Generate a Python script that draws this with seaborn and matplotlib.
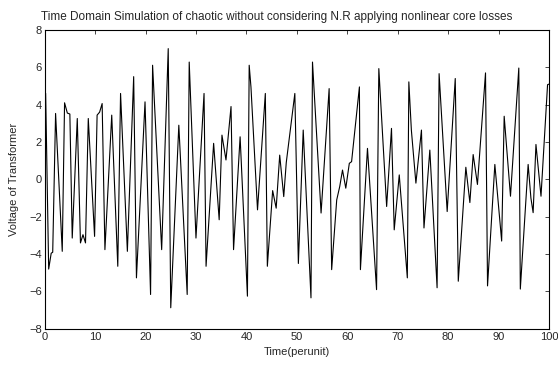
import numpy as np
import pandas as pd
import matplotlib
matplotlib.use("Agg")
import matplotlib.pyplot as plt
import seaborn as sns

# values (turning points of the waveform)
time = [0.0, 0.2, 0.8, 1.3, 1.6, 2.17, 3.49, 3.95, 4.5, 5.0, 5.47, 6.47, 7.1, 7.6, 8.1,
        8.65, 9.9, 10.4, 10.9, 11.4, 11.95, 13.3, 14.5, 15.05, 16.4, 17.65, 18.2,
        19.9, 21.0, 21.4, 23.2, 24.5, 25.0, 26.6, 28.26, 28.66, 30.0, 31.6, 32.0,
        33.5, 34.6, 35.15, 35.95, 36.95, 37.45, 38.75, 40.2, 40.55, 40.9, 42.2,
        43.75, 44.15, 45.2, 45.9, 46.6, 47.4, 47.9, 49.6, 50.3, 51.26, 52.8, 53.1,
        54.8, 56.4, 56.9, 57.9, 58.5, 59.05, 59.7, 60.4, 60.85, 62.4, 62.6, 64.0,
        65.8, 66.25, 67.8, 68.76, 69.3, 70.3, 71.9, 72.2, 72.7, 73.6, 74.7, 75.2,
        76.36, 77.8, 78.2, 79.8, 81.4, 82.0, 83.5, 84.3, 84.95, 85.8, 87.4, 87.8,
        89.25, 90.6, 91.1, 92.35, 94.0, 94.3, 95.85, 96.4, 96.84, 97.4, 98.4,
        99.7, 100.0]
voltage = [4.7, 4.6, -4.8, -3.95, -3.9, 3.53, -3.85, 4.1, 3.55, 3.5, -3.14, 3.26, -3.4, -2.96, -3.4,
           3.26, -3.05, 3.44, 3.6, 4.06, -3.76, 3.44, -4.65, 4.6, -3.85, 5.5, -5.27,
           4.15, -6.16, 6.11, -3.76, 7.0, -6.87, 2.9, -6.16, 6.28, -3.14, 4.6, -4.65,
           1.93, -2.16, 2.37, 1.04, 3.9, -3.76, 2.28, -6.25, 6.11, 4.95, -1.63,
           4.6, -4.65, -0.6, -1.54, 1.3, -0.92, 0.9, 4.6, -4.5, 2.64, -6.34, 6.28,
           -1.8, 4.86, -4.83, -1.1, -0.38, 0.5, -0.47, 0.86, 0.95, 4.95, -4.83, 1.66,
           -5.9, 5.93, -1.45, 2.73, -2.7, 0.24, -5.27, 5.22, 2.64, -0.2, 2.64, -2.6,
           1.57, -5.8, 5.66, -1.72, 5.4, -5.45, 0.65, -1.24, 1.33, -0.27, 5.7, -5.7,
           0.8, -3.3, 3.38, -0.9, 5.96, -5.87, 0.8, -1.0, -1.78, 1.87, -0.9,
           5.07, 5.1]
xticks = list(range(0, 101, 10))
yticks = list(range(-8, 9, 2))

df = pd.DataFrame({"t": time, "v": voltage})

sns.set_style("white")
plt.rcParams["font.family"] = ["Liberation Sans", "DejaVu Sans"]
plt.rcParams["xtick.direction"] = "in"
plt.rcParams["ytick.direction"] = "in"

fig = plt.figure(figsize=(5.58, 3.65), dpi=100)
ax = fig.add_axes([0.080, 0.099, 0.904, 0.819])

sns.lineplot(data=df, x="t", y="v", ax=ax, color="black", linewidth=0.8, sort=False)

ax.set_xlim(0, 100)
ax.set_ylim(-8, 8)
ax.set_xticks(xticks)
ax.set_yticks(yticks)
ax.tick_params(axis="both", labelsize=8, length=3, width=0.6,
               top=True, right=True, pad=2)
for s in ax.spines.values():
    s.set_color("black")
    s.set_linewidth(0.8)

ax.set_title("Time Domain Simulation of chaotic without considering N.R applying nonlinear core losses",
             fontsize=8.5, pad=7, x=0.46)
ax.set_xlabel("Time(perunit)", fontsize=8, labelpad=4)
ax.set_ylabel("Voltage of Transformer", fontsize=8, labelpad=7)

fig.savefig("out.png", dpi=100, facecolor="white")
